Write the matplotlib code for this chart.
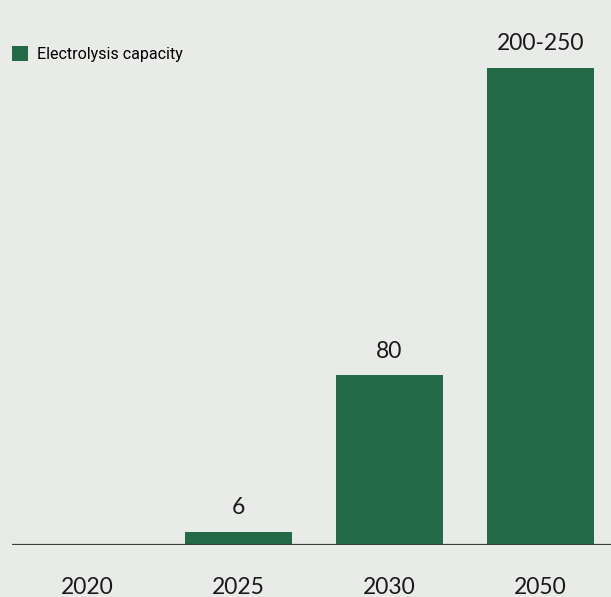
import matplotlib.pyplot as plt

years = ["2020", "2025", "2030", "2050"]
capacity = [0, 6, 80, 225]
value_labels = ["", "6", "80", "200-250"]

bg = "#e9ebe8"
green = "#236a48"

fig = plt.figure(figsize=(6.11, 5.97), dpi=100, facecolor=bg)
# axes spans from the baseline up to the top edge
ax = fig.add_axes([12 / 611, 52 / 597, 599 / 611, 545 / 597])
ax.set_facecolor(bg)

x = range(len(years))
bars = ax.bar(x, capacity, width=0.715, color=green, label="Electrolysis capacity", zorder=2)
ax.set_xlim(-0.5, -0.5 + 599 / 151)
ax.set_ylim(0, 545 / 2.12)

for b, lab in zip(bars, value_labels):
    if lab:
        ax.annotate(lab, (b.get_x() + b.get_width() / 2, b.get_height()),
                    xytext=(0, 10), textcoords="offset points",
                    ha="center", va="bottom", fontsize=16.5,
                    family="Lato", color="#1a1a1a")

ax.axhline(0, color="#3c3c3c", lw=1.6, zorder=3)

for s in ax.spines.values():
    s.set_visible(False)
ax.set_yticks([])
ax.set_xticks(list(x))
ax.set_xticklabels(years, fontsize=16.5, family="Lato", color="#1a1a1a")
ax.tick_params(axis="x", length=0, pad=23)

leg = ax.legend(loc="upper left", bbox_to_anchor=(-2 / 611, 1 - 32 / 597),
                bbox_transform=fig.transFigure, frameon=False,
                handlelength=1.0, handleheight=1.0, handletextpad=0.55,
                prop={"family": "Roboto", "size": 11.5})

fig.savefig("out.png", dpi=100, facecolor=bg)
